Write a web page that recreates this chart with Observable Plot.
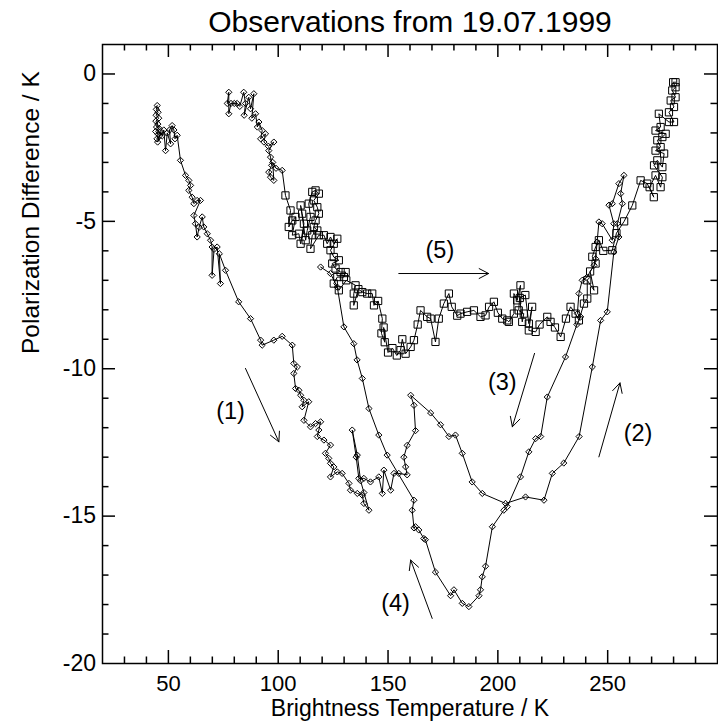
<!DOCTYPE html>
<html>
<head>
<meta charset="utf-8">
<script src="https://cdn.jsdelivr.net/npm/d3@7"></script>
<script src="https://cdn.jsdelivr.net/npm/@observablehq/plot@0.6"></script>
<style>
  html, body { margin: 0; padding: 0; background: #fff; }
  #chart svg { display: block; }
</style>
</head>
<body>
<div id="chart"></div>
<script>
// Brightness temperature (K) vs polarization difference (K), [Tb, dP] pairs.

// (1) descent from the cold start, diamond markers
const descentLeft = [
  [44.9,-1.07],[44.5,-1.2],[45.3,-1.3],[44.4,-1.4],[45.6,-1.5],[44.3,-1.6],[45.2,-1.7],[44.6,-1.8],
  [45.8,-1.85],[44.2,-1.95],[45.4,-2.05],[44.8,-2.2],[46.0,-2.1],[45.1,-2.31],[46.5,-1.95],[47.2,-2.1],
  [47.9,-1.9],[48.7,-2.6],[49.5,-2.0],[51.0,-2.37],[50.5,-1.9],[51.7,-1.75],[52.5,-1.9],[53.0,-2.2],
  [54.0,-2.08],[55.5,-2.93],[57.8,-3.44],[59.3,-3.61],[60.1,-3.78],[59.3,-3.95],[60.8,-4.18],[61.6,-4.4],
  [63.1,-4.29],[64.6,-4.29],[61.6,-4.8],[62.3,-5.08],[63.1,-5.53],[64.0,-5.2],[65.4,-4.85],[66.1,-5.19],
  [67.7,-5.42],[69.2,-5.64],[69.9,-5.87],[69.9,-6.83],[70.8,-5.95],[72.2,-5.87],[73.7,-7.11],[73.2,-6.1],
  [76.0,-6.66],[82.0,-7.73],[87.4,-8.3],[92.0,-9.03],[92.7,-9.2],[98.0,-9.03],[101.8,-8.9],[106.4,-9.2],
  [107.1,-9.82],[108.7,-9.94],[107.1,-10.16],[107.9,-10.67],[109.4,-10.73],[110.2,-10.9],[111.7,-11.07],
  [110.9,-11.29],[113.9,-11.12],[111.7,-11.75],[114.7,-11.97],[117.0,-11.86],[119.3,-11.8],[118.5,-12.08],
  [117.8,-12.3],[120.8,-12.42],[123.8,-12.59],[121.5,-12.87],[123.0,-13.04],[123.8,-13.21],[125.3,-13.33],
  [123.8,-13.67],[126.9,-13.5],[129.1,-13.55],[132.2,-13.89],[132.9,-14.12],[136.0,-14.23],[138.3,-14.29],
  [139.0,-14.57],[141.3,-14.8]
];

// wiggle near -14 K, rise to the -11 K peak, then (2) up the warm branch
const loopMiddle = [
  [139.0,-14.2],[137.5,-13.8],[136.0,-12.93],[133.7,-12.08],[135.5,-13.0],[136.7,-13.72],[139.0,-13.72],
  [142.0,-13.84],[145.8,-13.67],[147.4,-14.23],[148.1,-13.44],[151.2,-14.12],[152.7,-13.55],[154.9,-13.55],
  [158.7,-13.6],[158.0,-13.33],[157.2,-13.0],[158.7,-12.6],[162.5,-12.1],[161.8,-11.24],[160.3,-10.9],
  [169.4,-11.5],[173.9,-11.9],[177.7,-12.3],[180.7,-12.25],[183.8,-12.87],[188.3,-13.84],[192.9,-14.23],
  [203.5,-14.57],[212.6,-14.35],[221.0,-14.46],[224.8,-13.55],[230.0,-13.2],[237.0,-12.3],[243.0,-9.94],
  [246.8,-8.36],[249.8,-8.07],[252.8,-6.04],[255.1,-5.53],[254.4,-5.08],[256.7,-4.4],[255.9,-4.06],[257.4,-3.44]
];

// (3) back down, the -18 K minimum, (4) up and the long return line
const returnRight = [
  [255.1,-3.72],[252.1,-4.4],[250.6,-4.45],[252.8,-5.08],[252.1,-5.64],[247.5,-5.08],[246.0,-5.02],
  [245.2,-5.7],[244.5,-6.27],[243.8,-6.49],[240.5,-6.9],[238.4,-7.0],[236.9,-7.45],[236.2,-8.13],
  [237.7,-8.24],[236.0,-8.5],[230.8,-9.6],[222.5,-10.96],[219.5,-12.3],[217.2,-12.37],[214.1,-12.82],
  [210.3,-13.67],[204.3,-14.68],[202.7,-14.8],[197.5,-15.36],[194.4,-16.7],[192.9,-17.06],[192.1,-17.5],
  [191.4,-17.7],[186.8,-18.07],[183.8,-17.96],[180.0,-17.5],[178.5,-17.7],[171.6,-16.9],[167.0,-15.8],
  [166.3,-15.76],[164.0,-15.47],[162.5,-15.36],[161.8,-15.4],[161.0,-14.8],[161.8,-14.46],[149.6,-12.93],
  [145.8,-12.25],[141.3,-11.35],[138.3,-10.33],[135.9,-9.7],[134.4,-9.15],[129.9,-8.58],[126.9,-7.23],
  [123.8,-6.77],[119.3,-6.55]
];

// upper-left chain, diamond markers
const morningChain = [
  [76.8,-1.0],[77.5,-0.62],[77.5,-1.35],[78.5,-1.0],[80.0,-1.0],[81.3,-1.0],[82.5,-1.1],[84.3,-0.62],
  [85.1,-1.0],[84.5,-1.4],[86.6,-0.79],[87.4,-1.18],[88.9,-0.67],[88.0,-1.5],[89.7,-1.35],[90.5,-1.8],
  [91.2,-1.63],[92.7,-1.92],[92.0,-2.2],[94.2,-2.03],[93.5,-2.31],[95.5,-2.45],[98.0,-2.31],[95.7,-2.6],
  [96.5,-2.82],[97.0,-3.1],[95.7,-3.33],[96.5,-3.5],[98.0,-3.61],[97.5,-3.0],[99.0,-3.2],[101.8,-3.27]
];

// square markers: cluster near -5 K, (5) along -8 K and up to the warm end
const squareRun = [
  [103.3,-4.12],[105.6,-4.63],[104.8,-5.19],[106.4,-4.97],[107.9,-4.85],[106.4,-5.47],[109.4,-5.42],
  [110.2,-5.76],[111.7,-5.08],[110.9,-4.74],[110.2,-4.46],[112.5,-5.64],[113.2,-5.31],[114.7,-4.85],
  [113.9,-4.4],[115.5,-4.0],[117.0,-3.95],[118.5,-4.06],[116.2,-4.29],[117.8,-4.52],[118.5,-4.74],
  [117.0,-4.97],[116.2,-5.19],[117.8,-5.31],[115.5,-5.47],[114.7,-5.93],[118.5,-5.47],[120.8,-5.47],
  [122.3,-5.76],[123.8,-5.53],[125.3,-5.76],[126.9,-5.59],[123.8,-5.98],[125.3,-6.21],[127.6,-6.32],
  [124.6,-6.43],[126.1,-6.6],[128.4,-6.72],[130.7,-6.72],[129.9,-6.89],[126.9,-6.89],[125.3,-7.11],
  [127.6,-7.34],[131.0,-7.0],[135.2,-7.17],[134.4,-7.45],[134.4,-7.85],[136.5,-7.3],[138.3,-7.4],
  [140.5,-7.45],[142.8,-7.45],[143.6,-7.85],[145.5,-7.7],[147.4,-8.3],[147.0,-8.8],[148.5,-9.1],
  [148.0,-8.6],[150.0,-9.45],[152.0,-9.3],[154.0,-9.55],[155.7,-9.37],[156.5,-9.0],[158.0,-9.49],
  [160.3,-9.26],[161.8,-9.03],[163.5,-8.5],[164.8,-8.02],[167.8,-8.24],[169.4,-8.3],[171.6,-9.09],
  [173.1,-8.3],[175.4,-7.79],[177.7,-7.45],[179.0,-7.9],[181.5,-8.2],[183.0,-8.13],[186.0,-8.07],
  [189.1,-8.02],[192.1,-8.24],[194.4,-8.19],[196.0,-7.9],[198.2,-7.73],[200.0,-8.1],[202.0,-8.3],
  [204.3,-8.36],[205.0,-8.41],[207.3,-8.13],[207.3,-7.45],[208.8,-7.68],[210.3,-7.17],[209.5,-8.02],
  [211.8,-8.13],[211.1,-8.41],[210.0,-7.6],[212.5,-7.5],[214.1,-8.47],[215.6,-7.9],[214.1,-8.7],
  [217.2,-8.75],[219.0,-8.5],[222.5,-8.24],[224.0,-8.41],[226.0,-8.6],[228.6,-8.92],[231.0,-8.3],
  [233.1,-7.9],[235.4,-8.13],[236.9,-8.36],[239.2,-7.79],[240.7,-7.62],[240.7,-7.0],[243.8,-7.34],
  [242.0,-6.7],[244.5,-6.43],[243.0,-6.2],[244.5,-5.87],[246.0,-5.64],[248.0,-6.0],[252.1,-5.98],
  [254.0,-5.4],[257.5,-5.0],[261.2,-4.46],[265.0,-3.61],[268.0,-3.72],[271.0,-4.18],[269.1,-3.84],
  [271.8,-3.44],[274.1,-3.84],[274.9,-3.5],[271.1,-3.1],[272.6,-2.93],[274.9,-3.16],[275.7,-2.7],
  [271.8,-2.6],[274.1,-2.48],[272.6,-2.25],[274.9,-2.14],[276.4,-2.03],[271.8,-1.92],[274.1,-1.8],
  [273.3,-1.35],[277.9,-1.63],[280.2,-1.63],[277.9,-1.3],[280.2,-1.12],[278.7,-0.9],[280.9,-0.79],
  [279.4,-0.56],[280.9,-0.45],[279.8,-0.28],[280.9,-0.28]
];

// direction arrows and their labels
const arrowNames = ["(1)", "(2)", "(3)", "(4)", "(5)"];
const arrowFromTb = [85.1, 246.0, 216.7, 170.1, 154.9];
const arrowFromDp = [-9.99, -12.99, -9.48, -18.47, -6.77];
const arrowToTb   = [100.3, 255.6, 206.6, 160.3, 195.8];
const arrowToDp   = [-12.48, -10.48, -11.97, -16.49, -6.77];
const labelTb     = [78.3, 263.8, 202.0, 153.4, 173.6];
const labelDp     = [-11.46, -12.18, -10.45, -17.96, -5.98];

// axis ticks
const xMajorTicks = [50, 100, 150, 200, 250];
const xMinorTicks = [30, 40, 60, 70, 80, 90, 110, 120, 130, 140, 160, 170, 180, 190, 210, 220, 230, 240, 260, 270, 280, 290];
const yMajorTicks = [0, -5, -10, -15];
const yMinorTicks = [-1, -2, -3, -4, -6, -7, -8, -9, -11, -12, -13, -14, -16, -17, -18, -19];
const xTickLabels = ["50", "100", "150", "200", "250"];
const yTickValues = [0, -5, -10, -15, -20];
const yTickLabels = ["0", "-5", "-10", "-15", "-20"];

// assemble rows: run = connected trace, mark = marker style
const rows = [];
const addRun = (pairs, run, mark) => pairs.forEach(([tb, dp]) => rows.push({tb, dp, run, mark}));
addRun(descentLeft, "day", "D");
addRun(loopMiddle, "day", "D");
addRun(returnRight, "day", "D");
addRun(morningChain, "late", "D");
addRun(squareRun, "late", "S");

const arrows = arrowNames.map((name, i) => ({
  name, x1: arrowFromTb[i], y1: arrowFromDp[i], x2: arrowToTb[i], y2: arrowToDp[i],
  lx: labelTb[i], ly: labelDp[i]
}));

const W = 718, H = 721;
const mTop = 44, mRight = 1, mBottom = 58, mLeft = 102;
const innerW = W - mLeft - mRight;
const innerH = H - mTop - mBottom;
const majorLen = 13, minorLen = 6.5;
const tickFont = 22;

const chart = Plot.plot({
  width: W,
  height: H,
  marginTop: mTop,
  marginRight: mRight,
  marginBottom: mBottom,
  marginLeft: mLeft,
  style: {fontFamily: "'Liberation Sans', Arial, Helvetica, sans-serif", background: "#fff", color: "#000", overflow: "visible"},
  x: {domain: [20, 300], axis: null},
  y: {domain: [-20, 1], axis: null},
  marks: [
    // inward tick marks on all four sides
    Plot.tickX(xMajorTicks, {x: d => d, insetTop: innerH - majorLen, strokeWidth: 1.5}),
    Plot.tickX(xMajorTicks, {x: d => d, insetBottom: innerH - majorLen, strokeWidth: 1.5}),
    Plot.tickX(xMinorTicks, {x: d => d, insetTop: innerH - minorLen, strokeWidth: 1.5}),
    Plot.tickX(xMinorTicks, {x: d => d, insetBottom: innerH - minorLen, strokeWidth: 1.5}),
    Plot.tickY(yMajorTicks, {y: d => d, insetRight: innerW - majorLen, strokeWidth: 1.5}),
    Plot.tickY(yMajorTicks, {y: d => d, insetLeft: innerW - majorLen, strokeWidth: 1.5}),
    Plot.tickY(yMinorTicks, {y: d => d, insetRight: innerW - minorLen, strokeWidth: 1.5}),
    Plot.tickY(yMinorTicks, {y: d => d, insetLeft: innerW - minorLen, strokeWidth: 1.5}),
    Plot.frame({stroke: "#000", strokeWidth: 1.5}),

    // tick labels
    Plot.text(xMajorTicks, {x: d => d, text: (d, i) => xTickLabels[i], frameAnchor: "bottom", lineAnchor: "top", dy: 12, fontSize: tickFont}),
    Plot.text(yTickValues, {y: d => d, text: (d, i) => yTickLabels[i], frameAnchor: "left", textAnchor: "end", dx: -6.5, fontSize: 23}),

    // titles
    Plot.text(["Observations from 19.07.1999"], {frameAnchor: "top", lineAnchor: "middle", dy: -22, fontSize: 30}),
    Plot.text(["Brightness Temperature / K"], {frameAnchor: "bottom", lineAnchor: "middle", dy: 45.5, fontSize: 23}),
    Plot.text(["Polarization Difference / K"], {frameAnchor: "left", lineAnchor: "middle", rotate: -90, dx: -71, fontSize: 24.5}),

    // traces
    Plot.line(rows, {x: "tb", y: "dp", z: "run", stroke: "#000", strokeWidth: 1}),
    Plot.dot(rows.filter(d => d.mark === "D"), {x: "tb", y: "dp", symbol: "diamond2", r: 2.8, stroke: "#000", fill: "none", strokeWidth: 1}),
    Plot.dot(rows.filter(d => d.mark === "S"), {x: "tb", y: "dp", symbol: "square2", r: 4.6, stroke: "#000", fill: "none", strokeWidth: 1}),

    // direction arrows
    Plot.arrow(arrows, {x1: "x1", y1: "y1", x2: "x2", y2: "y2", stroke: "#000", strokeWidth: 1, headLength: 16, headAngle: 55}),
    Plot.text(arrows, {x: "lx", y: "ly", text: "name", fontSize: 23.5})
  ]
});

document.getElementById("chart").appendChild(chart);
</script>
</body>
</html>
